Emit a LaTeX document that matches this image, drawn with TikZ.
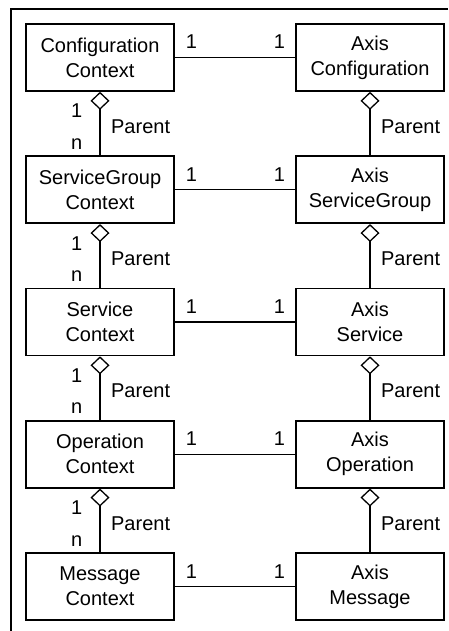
\documentclass[tikz,border=0pt]{standalone}
\usepackage{fontspec}
\setmainfont{Liberation Sans}
\usetikzlibrary{arrows.meta}
\begin{document}
\begin{tikzpicture}[x=1pt,y=-1pt,
    box/.style={draw,line width=1.6pt,minimum width=148pt,minimum height=67pt,
      align=center,inner sep=0pt,font=\fontsize{20}{25}\selectfont},
    lbl/.style={inner sep=0pt,font=\fontsize{20}{24}\selectfont},
    parent/.style={{Diamond[open,length=18pt,width=19pt]}-,line width=1.3pt},
    assoc/.style={line width=1.3pt}]
  \useasboundingbox (0,0) rectangle (448,631);
  \draw[line width=1.3pt] (448,9) -- (11,9) -- (11,631);
  \draw
    (100,57.5) node[box] (cc){Configuration\\Context}
    (370,57.5) node[box] (ac){Axis\\Configuration}
    (100,189.75) node[box] (sgc){ServiceGroup\\Context}
    (370,189.75) node[box] (asg){Axis\\ServiceGroup}
    (100,322) node[box] (sc){Service\\Context}
    (370,322) node[box] (as){Axis\\Service}
    (100,454.25) node[box] (oc){Operation\\Context}
    (370,454.25) node[box] (ao){Axis\\Operation}
    (100,586.5) node[box] (mc){Message\\Context}
    (370,586.5) node[box] (am){Axis\\Message};
  % context <-> axis description
  \begin{scope}[assoc,
      one start/.style={lbl,pos=0,anchor=base west,xshift=10.5pt,yshift=8.5pt},
      one end/.style={lbl,pos=1,anchor=base east,xshift=-9.5pt,yshift=8.5pt}]
    \draw (cc) to node[one start]{1} node[one end]{1} (ac);
    \draw (sgc) to node[one start]{1} node[one end]{1} (asg);
    \draw (sc) to node[one start]{1} node[one end]{1} (as);
    \draw (oc) to node[one start]{1} node[one end]{1} (ao);
    \draw (mc) to node[one start]{1} node[one end]{1} (am);
  \end{scope}
  % parent links
  \begin{scope}[parent,
      role/.style={lbl,midway,anchor=west,xshift=10.5pt,yshift=-3pt},
      mult top/.style={lbl,pos=0,anchor=base east,xshift=-17pt,yshift=-26pt},
      mult bottom/.style={lbl,pos=1,anchor=base east,xshift=-17pt,yshift=6pt}]
    \draw (cc) to node[role]{Parent} node[mult top]{1} node[mult bottom]{n} (sgc);
    \draw (sgc) to node[role]{Parent} node[mult top]{1} node[mult bottom]{n} (sc);
    \draw (sc) to node[role]{Parent} node[mult top]{1} node[mult bottom]{n} (oc);
    \draw (oc) to node[role]{Parent} node[mult top]{1} node[mult bottom]{n} (mc);
    \draw (ac) to node[role]{Parent} (asg);
    \draw (asg) to node[role]{Parent} (as);
    \draw (as) to node[role]{Parent} (ao);
    \draw (ao) to node[role]{Parent} (am);
  \end{scope}
\end{tikzpicture}
\end{document}
